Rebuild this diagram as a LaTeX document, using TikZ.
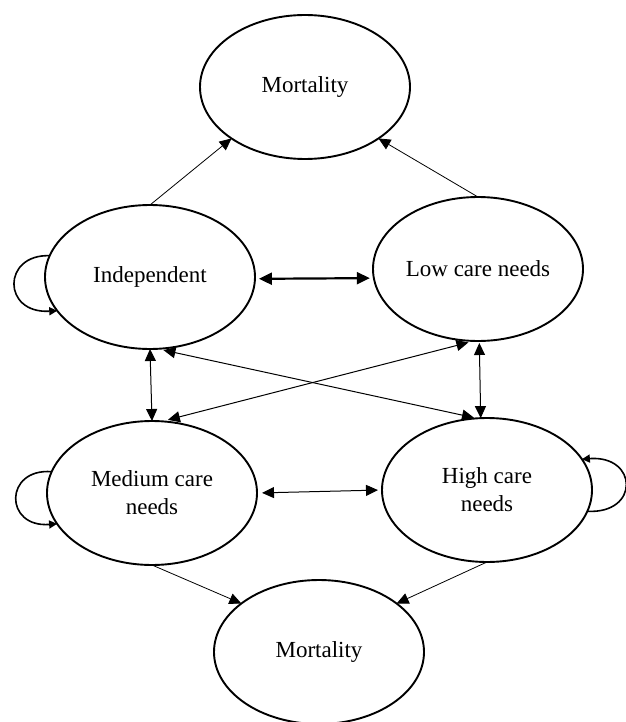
\documentclass[tikz,border=0pt]{standalone}
\usepackage{fontspec}
\setmainfont{Liberation Serif}
\usetikzlibrary{shapes.geometric,arrows.meta}
\begin{document}
\begin{tikzpicture}[x=1pt,y=-1pt,
  state/.style={ellipse,draw,line width=1.9pt,minimum width=210pt,minimum height=144pt,inner sep=0pt,outer sep=0pt,align=center,font=\fontsize{23}{28}\selectfont},
  thin/.style={line width=0.8pt,-{Triangle[length=12pt,width=11pt]}},
  both/.style={line width=1pt,{Triangle[length=12pt,width=11pt]}-{Triangle[length=12pt,width=11pt]}},
  thick/.style={line width=2.2pt,{Triangle[length=13pt,width=12pt]}-{Triangle[length=13pt,width=12pt]}},
  loop/.style={line width=1.6pt,-{Triangle[length=8pt,width=8pt]}}]
\useasboundingbox (0,0) rectangle (625,722);
\node[state] (mt)   at (305,87)  {Mortality};
\node[state] (ind)  at (150,277) {Independent};
\node[state] (low)  at (478,269) {Low care needs};
\node[state] (med)  at (152,493) {Medium care\\needs};
\node[state] (high) at (487,490) {High care\\needs};
\node[state] (mb)   at (319,652) {Mortality};
% to top mortality
\draw[thin] (ind.north) -- (mt.215);
\draw[thin] (low.north) -- (mt.325);
% horizontal
\draw[thick,shorten <=4pt,shorten >=4pt] (ind.-1) -- (low.185);
\draw[both,shorten <=5pt,shorten >=4pt] (med.east) -- (high.west);
% verticals
\draw[both] (ind.south) -- (med.north);
\draw[both,shorten <=2pt] (low.271) -- (high.95);
% diagonals
\draw[both,shorten <=6pt,shorten >=3pt] (ind.276) -- (high.98);
\draw[both,shorten <=6pt,shorten >=6pt] (low.267) -- (med.82);
% to bottom mortality
\draw[thin] (med.south) -- (mb.148);
\draw[thin] (high.south) -- (mb.32);
% self loops
\draw[loop] (ind.168) .. controls (2,254) and (2,314) .. (ind.200);
\draw[loop] (med.168) .. controls (4,468) and (4,528) .. (med.198);
\draw[loop] (high.348) .. controls (640,514) and (638,455) .. (high.18);
\end{tikzpicture}
\end{document}
